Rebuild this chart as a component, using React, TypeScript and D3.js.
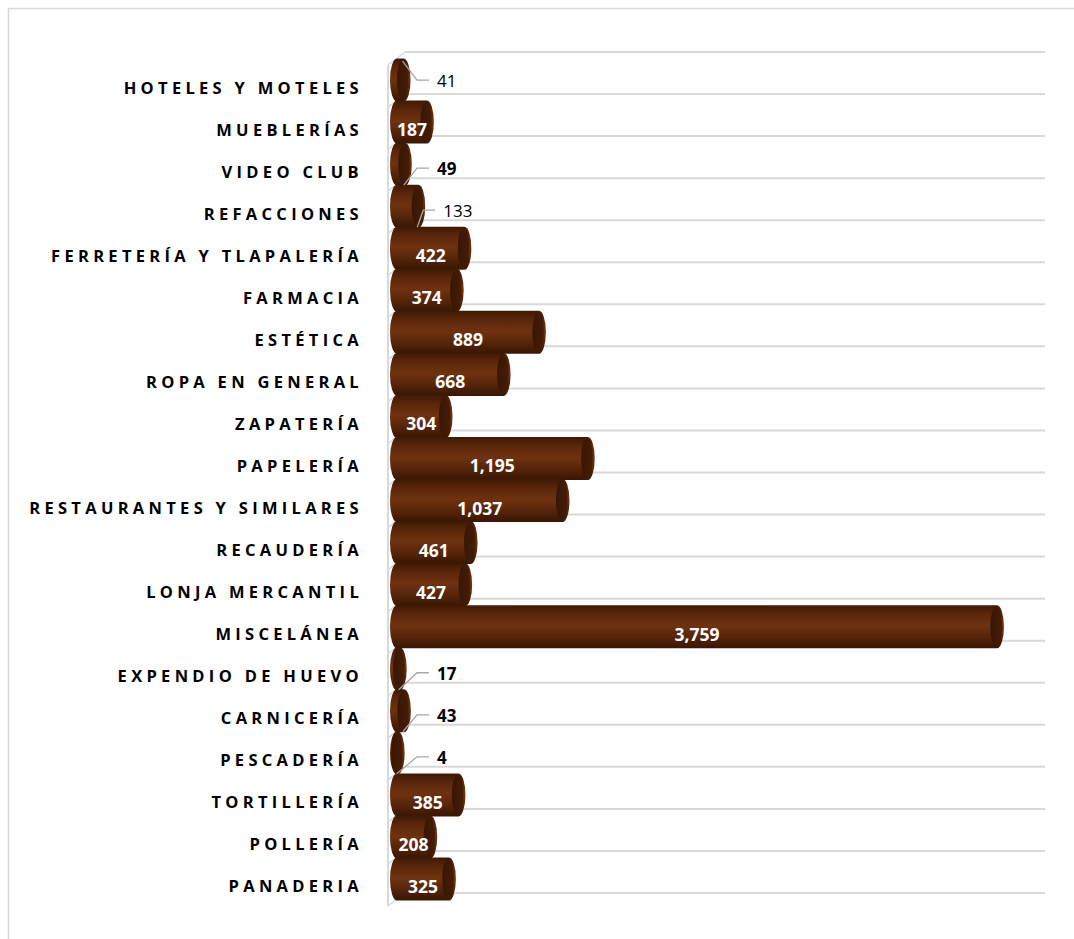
import React from "react";
import * as d3 from "d3";

const categories = [
  "HOTELES Y MOTELES",
  "MUEBLERÍAS",
  "VIDEO CLUB",
  "REFACCIONES",
  "FERRETERÍA Y TLAPALERÍA",
  "FARMACIA",
  "ESTÉTICA",
  "ROPA EN GENERAL",
  "ZAPATERÍA",
  "PAPELERÍA",
  "RESTAURANTES Y SIMILARES",
  "RECAUDERÍA",
  "LONJA MERCANTIL",
  "MISCELÁNEA",
  "EXPENDIO DE HUEVO",
  "CARNICERÍA",
  "PESCADERÍA",
  "TORTILLERÍA",
  "POLLERÍA",
  "PANADERIA",
];
const values = [41, 187, 49, 133, 422, 374, 889, 668, 304, 1195, 1037, 461, 427, 3759, 17, 43, 4, 385, 208, 325];

// labels drawn outside the bar with a leader line
const outsideNormal = ["HOTELES Y MOTELES", "REFACCIONES"];
const outsideBold = ["VIDEO CLUB", "EXPENDIO DE HUEVO", "CARNICERÍA", "PESCADERÍA"];
const leaderFromTop = ["HOTELES Y MOTELES"];

const xMax = 4000;

export default function App() {
  const W = 1074;
  const H = 939;
  const wallTop = 52;
  const band = 42.05;
  const depthX = 17;
  const depthY = 13;

  const y = d3
    .scaleBand<string>()
    .domain(categories)
    .range([wallTop, wallTop + band * categories.length])
    .paddingInner(0)
    .paddingOuter(0);
  const x = d3.scaleLinear().domain([0, xMax]).range([397, 1035.4]);

  const gridYs = d3.range(categories.length + 1).map((k) => wallTop + k * band);
  const wallX = 388;
  const gridRight = 1045;
  const r = 21.5;
  const rx = 7;
  const fmt = d3.format(",");

  const centerY = (c: string) => (y(c) as number) + band / 2 + 7;

  const bodyPath = (cx0: number, cx1: number, cy: number) =>
    `M${cx0},${cy - r}L${cx1},${cy - r}A${rx},${r} 0 0 1 ${cx1},${cy + r}L${cx0},${cy + r}A${rx},${r} 0 0 1 ${cx0},${cy - r}Z`;

  const grid = "#d9d9d9";

  return (
    <svg
      width={W}
      height={H}
      style={{ position: "absolute", left: 0, top: 0, background: "#fff" }}
      fontFamily="'Open Sans', 'Noto Sans', sans-serif"
    >
      <defs>
        <linearGradient id="cyl" x1="0" y1="0" x2="0" y2="1">
          <stop offset="0%" stopColor="#3d1904" />
          <stop offset="20%" stopColor="#5a260a" />
          <stop offset="48%" stopColor="#6f3210" />
          <stop offset="75%" stopColor="#552409" />
          <stop offset="100%" stopColor="#381603" />
        </linearGradient>
        <linearGradient id="cap" x1="0" y1="0" x2="1" y2="0">
          <stop offset="0%" stopColor="#381604" />
          <stop offset="100%" stopColor="#461d06" />
        </linearGradient>
      </defs>

      {/* outer chart border */}
      <rect x={8.5} y={8.5} width={1100} height={1000} fill="none" stroke={grid} strokeWidth={1.5} />

      {/* back-wall gridlines */}
      {gridYs.map((gy, i) => (
        <g key={"g" + i}>
          <line x1={wallX + depthX} x2={gridRight} y1={gy} y2={gy} stroke={grid} strokeWidth={2} />
          <line x1={wallX} y1={gy + depthY} x2={wallX + depthX} y2={gy} stroke={grid} strokeWidth={1.5} />
        </g>
      ))}
      {/* side wall */}
      <line x1={wallX} x2={wallX} y1={wallTop + depthY} y2={gridYs[gridYs.length - 1] + depthY} stroke={grid} strokeWidth={2} />

      {/* category labels */}
      {categories.map((c) => (
        <text
          key={"l" + c}
          x={363}
          y={centerY(c) + 13.5}
          textAnchor="end"
          fontSize={16.5}
          fontWeight={700}
          letterSpacing={4.3}
          fill="#000"
        >
          {c}
        </text>
      ))}

      {/* cylinders */}
      {categories.map((c, i) => {
        const v = values[i];
        const cy = centerY(c);
        const cx0 = x(0);
        const cx1 = x(v);
        return (
          <g key={"b" + c}>
            <path d={bodyPath(cx0, cx1, cy)} fill="url(#cyl)" />
            <ellipse cx={cx1 - 0.8} cy={cy} rx={rx - 1.2} ry={r - 0.8} fill="url(#cap)" />
          </g>
        );
      })}

      {/* value labels */}
      {categories.map((c, i) => {
        const v = values[i];
        const cy = centerY(c);
        const isNormal = outsideNormal.includes(c);
        const isBold = outsideBold.includes(c);
        if (!isNormal && !isBold) {
          return (
            <text
              key={"v" + c}
              x={(x(0) - rx + x(v) + rx) / 2}
              y={cy + 14}
              textAnchor="middle"
              fontSize={17.5}
              fontWeight={700}
              fill="#fff"
            >
              {fmt(v)}
            </text>
          );
        }
        const top = leaderFromTop.includes(c);
        const lx = Math.max(x(0) + 40, x(v) + 25);
        const ly = top ? cy : cy + 4;
        const sx = x(v) - 1;
        const sy = top ? cy - 19 : cy + 21;
        const ex = lx - 20;
        return (
          <g key={"v" + c}>
            <polyline
              points={`${sx},${sy} ${ex},${ly} ${lx - 8},${ly}`}
              fill="none"
              stroke="#a6a6a6"
              strokeWidth={1.3}
            />
            <text x={lx} y={ly + 7} fontSize={17} fontWeight={isBold ? 700 : 400} fill="#000">
              {fmt(v)}
            </text>
          </g>
        );
      })}
    </svg>
  );
}
